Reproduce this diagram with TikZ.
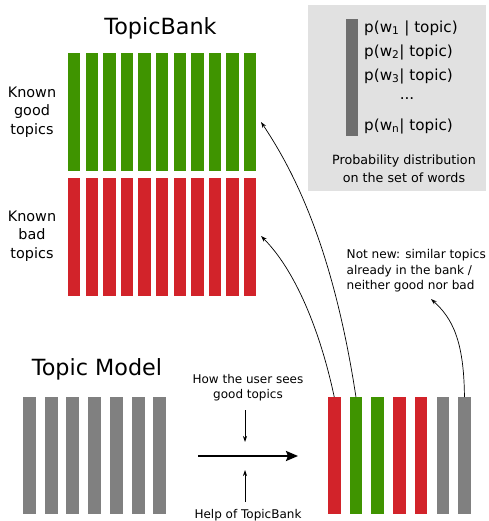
\documentclass[tikz,border=0pt]{standalone}
\usepackage{fontspec}
\setmainfont{DejaVu Sans}
\usetikzlibrary{arrows.meta}
\definecolor{tgreen}{HTML}{3F9400}
\definecolor{tred}{HTML}{D2232A}
\definecolor{tgray}{HTML}{808080}
\definecolor{boxgray}{HTML}{E1E1E1}
\definecolor{darkbar}{HTML}{6E6E6E}
\begin{document}
\begin{tikzpicture}[x=1pt,y=-1pt,
  bar/.style={draw=none,inner sep=0pt,outer sep=0pt,anchor=north west,minimum width=12.5pt,minimum height=118pt},
  title/.style={font=\fontsize{22.3}{26}\selectfont,anchor=base,inner sep=0pt},
  side/.style={font=\fontsize{14.4}{18.5}\selectfont,align=center,inner sep=0pt},
  small/.style={font=\fontsize{12}{15}\selectfont,inner sep=0pt},
  ptext/.style={font=\fontsize{15.2}{18}\selectfont,anchor=west,inner sep=0pt},
  thinarrow/.style={line width=0.7pt,-{Stealth[length=6pt,width=4pt]}},
  bigarrow/.style={line width=2.2pt,-{Stealth[length=12pt,width=10pt,inset=2pt]}}]
\useasboundingbox (0,0) rectangle (488,521);

% titles
\node[title] (tb) at (160.5,35) {TopicBank};
\node[title] (tm) at (97,375) {Topic Model};

% topic bank
\foreach \i in {0,...,10} {
  \node[bar,fill=tgreen,minimum width=12.3pt] (g\i) at ({68+17.6*\i},53) {};
  \node[bar,fill=tred,minimum width=12.3pt] (b\i) at ({68+17.6*\i},178) {};
}
\node[side] (kg) at (32,112) {Known\\good\\topics};
\node[side] (kb) at (32,236) {Known\\bad\\topics};

% probability box
\node[draw=none,fill=boxgray,inner sep=0pt,anchor=north west,minimum width=178pt,minimum height=186pt] (pbox) at (308,5) {};
\node[draw=none,fill=darkbar,inner sep=0pt,anchor=north west,minimum width=12pt,minimum height=117pt] (pbar) at (346,19) {};
\node[ptext] (p1) at (364,28) {p(w\textsubscript{1} | topic)};
\node[ptext] (p2) at (364,52) {p(w\textsubscript{2}| topic)};
\node[ptext] (p3) at (364,76) {p(w\textsubscript{3}| topic)};
\node[ptext,anchor=center] (pd) at (407,99) {...};
\node[ptext] (pn) at (364,126) {p(w\textsubscript{n}| topic)};
\node[font=\fontsize{12.7}{18}\selectfont,align=center,inner sep=0pt] (pdist) at (404,169) {Probability distribution\\on the set of words};

% topic model bars
\foreach \i in {1,...,7} {
  \node[bar,fill=tgray,minimum width=13pt,minimum height=117pt] (m\i) at ({23+21.7*(\i-1)},397) {};
}
% result bars
\foreach \c [count=\i] in {tred,tgreen,tgreen,tred,tred,tgray,tgray} {
  \node[bar,fill=\c,minimum width=12.5pt,minimum height=117pt] (r\i) at ({328+21.7*(\i-1)},397) {};
}

% middle arrow and labels
\coordinate (as) at (198,456);
\coordinate (ae) at (298,456);
\draw[bigarrow] (as) -- (ae);
\node[small,align=center] (how) at (248,387.5) {How the user sees\\good topics};
\node[small] (help) at (248,515) {Help of TopicBank};
\coordinate (d1) at (245,410);
\coordinate (d2) at (245,442);
\coordinate (u1) at (245,502);
\coordinate (u2) at (245,470);
\draw[thinarrow] (d1) -- (d2);
\draw[thinarrow] (u1) -- (u2);

% not new label
\node[font=\fontsize{12.1}{15.2}\selectfont,inner sep=0pt,align=left,anchor=north west] (nn) at (346.5,249.5) {Not new: similar topics\\already in the bank /\\neither good nor bad};

% curved arrows
\coordinate (cg) at (261,122);
\coordinate (cr) at (261,236);
\coordinate (cn) at (431,299);
\draw[thinarrow] (r1.north) .. controls (320,330) and (295,270) .. (cr);
\draw[thinarrow] (r2.north) .. controls (335,260) and (300,180) .. (cg);
\draw[thinarrow] (r7.north) .. controls (464,340) and (452,318) .. (cn);
\end{tikzpicture}
\end{document}
